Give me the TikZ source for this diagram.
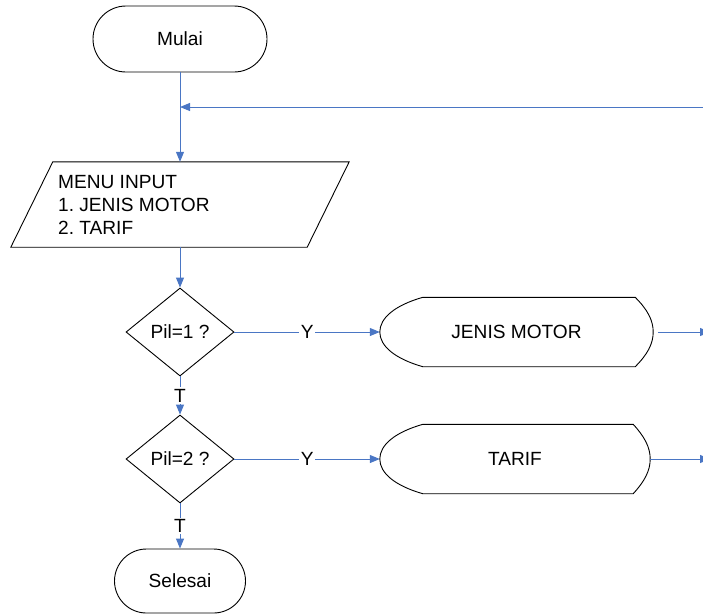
\documentclass[tikz,border=0pt]{standalone}
\usepackage{fontspec}
\setmainfont{Liberation Sans}
\usetikzlibrary{shapes.geometric,arrows.meta,calc}
\definecolor{flow}{RGB}{74,118,196}
\frenchspacing
\begin{document}
\begin{tikzpicture}[x=1pt,y=-1pt,
  font=\fontsize{19.1}{23}\selectfont,
  outline/.style={draw=black,line width=0.9pt},
  term/.style={outline,rectangle,inner sep=0pt},
  decision/.style={outline,diamond,minimum width=108pt,minimum height=88pt,inner sep=0pt},
  frame/.style={rectangle,inner sep=0pt},
  flowline/.style={draw=flow,line width=1pt,-{Triangle[length=10pt,width=8pt]}},
  lbl/.style={fill=white,inner sep=1.5pt,text=black}
]
\useasboundingbox (0,0) rectangle (703,614);

% start / end terminators
\node[term,rounded corners=33pt,minimum width=174pt,minimum height=66pt] (mulai) at (180,39) {Mulai};
\node[term,rounded corners=32pt,minimum width=131pt,minimum height=64pt] (selesai) at (180,581) {Selesai};

% menu input (parallelogram)
\node[frame,minimum width=338pt,minimum height=85pt] (menu) at (180,204.5) {};
\draw[outline] ($(menu.north west)+(42,0)$) -- (menu.north east)
  -- ($(menu.south east)+(-42,0)$) -- (menu.south west) -- cycle;
\node[anchor=west,align=left,inner sep=0pt] (menutext) at (58,205) {MENU INPUT\\1.\ JENIS MOTOR\\2.\ TARIF};

% decisions
\node[decision] (d1) at (180,332) {Pil=1 ?};
\node[decision] (d2) at (180,459) {Pil=2 ?};

% display-shaped process boxes
\node[frame,minimum width=273pt,minimum height=69pt] (jm) at (516.5,332) {JENIS MOTOR};
\draw[outline] ($(jm.north west)+(43,0)$) -- ($(jm.north east)+(-18,0)$)
  .. controls ($(jm.north east)+(-6,12)$) and ($(jm.east)+(0,-12)$) .. (jm.east)
  .. controls ($(jm.east)+(0,12)$) and ($(jm.south east)+(-6,-12)$) .. ($(jm.south east)+(-18,0)$)
  -- ($(jm.south west)+(43,0)$)
  .. controls ($(jm.south west)+(15,-8)$) and ($(jm.west)+(0,14)$) .. (jm.west)
  .. controls ($(jm.west)+(0,-14)$) and ($(jm.north west)+(15,8)$) .. cycle;

\node[frame,minimum width=270pt,minimum height=69pt] (tarif) at (515,459) {TARIF};
\draw[outline] ($(tarif.north west)+(43,0)$) -- ($(tarif.north east)+(-17,0)$)
  .. controls ($(tarif.north east)+(-6,12)$) and ($(tarif.east)+(0,-12)$) .. (tarif.east)
  .. controls ($(tarif.east)+(0,12)$) and ($(tarif.south east)+(-6,-12)$) .. ($(tarif.south east)+(-17,0)$)
  -- ($(tarif.south west)+(43,0)$)
  .. controls ($(tarif.south west)+(15,-8)$) and ($(tarif.west)+(0,14)$) .. (tarif.west)
  .. controls ($(tarif.west)+(0,-14)$) and ($(tarif.north west)+(15,8)$) .. cycle;

% free ends beyond the right edge
\coordinate (loopin) at (703,107);
\coordinate (loopjoin) at (180,107);
\coordinate (jmout) at (710,332);
\coordinate (tarifout) at (710,459);

% connectors
\draw[flowline] (mulai) -- (menu);
\draw[flowline] (loopin) -- (loopjoin);
\draw[flowline] (menu) -- (d1);
\draw[flowline] (d1) -- node[lbl] {Y} (jm);
\draw[flowline] (d1) -- node[lbl] {T} (d2);
\draw[flowline] (d2) -- node[lbl] {Y} (tarif);
\draw[flowline] (d2) -- node[lbl] {T} (selesai);
\draw[flowline,shorten <=5pt] (jm) -- (jmout);
\draw[flowline] (tarif) -- (tarifout);
\end{tikzpicture}
\end{document}
